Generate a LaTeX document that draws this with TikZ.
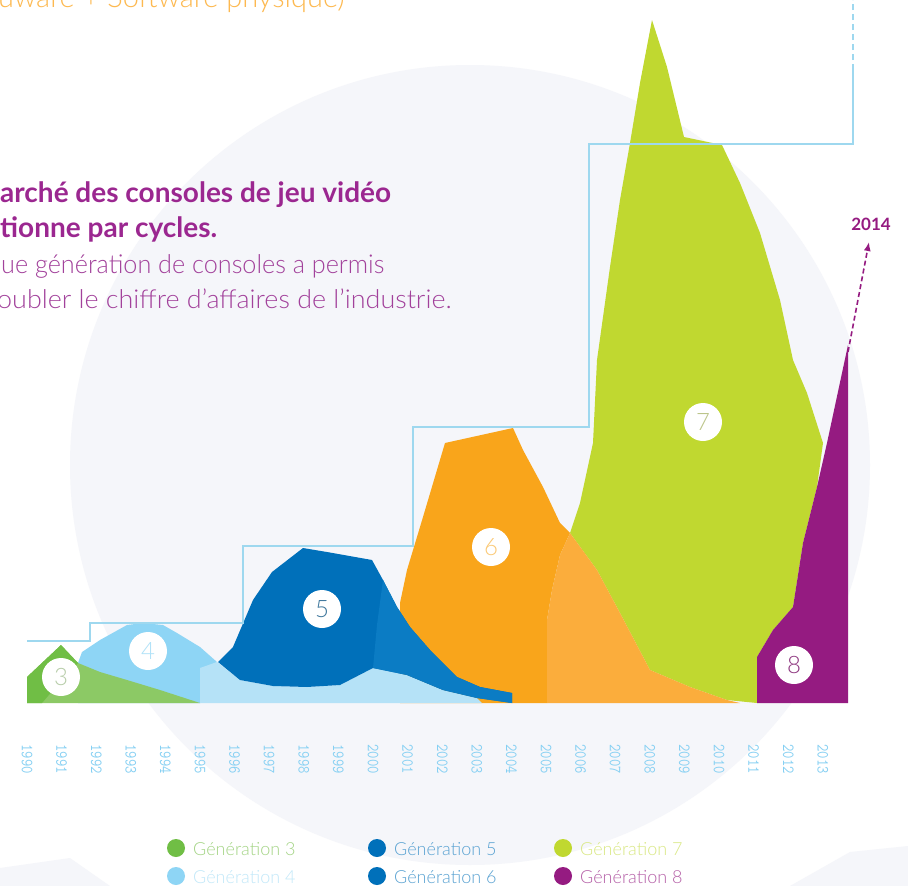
\documentclass[tikz,border=0pt]{standalone}
\usepackage{fontspec}
\usetikzlibrary{arrows.meta}
\setmainfont{Lato}
\IfFontExistsTF{Lato Light}{\newfontfamily\lightf{Lato Light}}{\newfontfamily\lightf{Lato}}
\definecolor{bgc}{HTML}{F5F6FA}
\definecolor{stepc}{HTML}{9ED8EF}
\definecolor{gthree}{HTML}{8CC965}
\definecolor{gthreed}{HTML}{70BE45}
\definecolor{gfour}{HTML}{8ED5F5}
\definecolor{gfourp}{HTML}{B5E2F7}
\definecolor{gfive}{HTML}{0070BA}
\definecolor{gfivet}{HTML}{0B7CC4}
\definecolor{gsix}{HTML}{F9A51B}
\definecolor{gsixl}{HTML}{FBAD3C}
\definecolor{gseven}{HTML}{C0D830}
\definecolor{geight}{HTML}{951B81}
\definecolor{titlec}{HTML}{9B2790}
\definecolor{subc}{HTML}{A2419B}
\definecolor{topc}{HTML}{FDB950}
\definecolor{yearc}{HTML}{86D0F3}
\begin{document}
\begin{tikzpicture}[x=1pt,y=-1pt,
  numc/.style={circle,fill=white,minimum size=38pt,inner sep=0pt,font=\lightf\fontsize{24}{24}\selectfont},
  yearlab/.style={rotate=-90,font=\ttfamily\fontsize{17}{17}\selectfont,text=yearc},
  legdot/.style={circle,inner sep=0pt,minimum size=18pt},
  legtxt/.style={anchor=base west,font=\lightf\fontsize{18}{18}\selectfont,inner sep=0pt},
  stepline/.style={draw=stepc,line width=2pt},
  titletxt/.style={anchor=base west,inner sep=0pt,text=titlec,font=\bfseries\fontsize{28}{28}\selectfont},
  subtxt/.style={anchor=base west,inner sep=0pt,text=subc,font=\lightf\fontsize{26}{26}\selectfont}]
\useasboundingbox (0,0) rectangle (908,886);
\fill[white] (0,0) rectangle (908,886);
% background disc
\fill[bgc] (470,465) circle (400);
\fill[bgc] (0,886) -- (0,868) -- (70,858) -- (110,886) -- cycle;
\fill[bgc] (790,886) -- (850,852) -- (908,846) -- (908,886) -- cycle;
% top text
\node[anchor=base west,inner sep=0pt,text=topc,font=\lightf\fontsize{29}{29}\selectfont] (top) at (-2,8) {uware + Software physique)};
% title
\node[titletxt] (t1) at (0,202) {arché des consoles de jeu vidéo};
\node[titletxt] (t2) at (0,237) {tionne par cycles.};
\node[subtxt] (t3) at (1,273) {\scalebox{0.97}[1]{ue génération de consoles a permis}};
\node[subtxt] (t4) at (-3,308) {\scalebox{1.035}[1]{oubler le chiffre d’affaires de l’industrie.}};
% generation 6 (dark orange)
\fill[gsix] (400,703) -- (400,603) -- (407,570) -- (423,517) -- (445,443) -- (513,428) -- (523,450) -- (543,487) -- (560,523) -- (570,533) -- (560,555) -- (552,590) -- (547,620) -- (547,703) -- cycle;
% generation 4
\fill[gfour] (78,703) -- (78,663) -- (82,652) -- (100,640) -- (127,625) -- (143,623) -- (163,625) -- (177,633) -- (200,647) -- (217,662) -- (205,668) -- (200,703) -- cycle;
% generation 3
\fill[gthree] (27,703) -- (27,677) -- (61,645) -- (78,663) -- (100,672) -- (127,680) -- (160,690) -- (200,703) -- cycle;
\fill[gthreed] (27,703) -- (27,677) -- (61,645) -- (78,663) -- (60,682) -- (42,703) -- cycle;
% pale blue layer
\fill[gfourp] (200,703) -- (200,668) -- (217,662) -- (240,680) -- (273,686) -- (307,687) -- (340,685) -- (373,668) -- (407,675) -- (443,690) -- (477,698) -- (482,703) -- cycle;
% generation 5
\fill[gfive] (218,662) -- (233,647) -- (253,600) -- (272,572) -- (303,548) -- (327,552) -- (372,560) -- (383,580) -- (397,607) -- (410,627) -- (430,650) -- (457,677) -- (480,687) -- (512,693) -- (512,703) -- (477,698) -- (443,690) -- (407,675) -- (373,668) -- (340,685) -- (307,687) -- (273,686) -- (240,680) -- cycle;
\fill[gfivet] (383,580) -- (397,607) -- (410,627) -- (430,650) -- (457,677) -- (480,687) -- (512,693) -- (512,703) -- (477,698) -- (443,690) -- (407,675) -- (373,668) -- (377,625) -- cycle;
% generation 7
\fill[gseven] (652,20) -- (667,67) -- (684,137) -- (722,145) -- (740,183) -- (760,233) -- (780,300) -- (793,360) -- (807,393) -- (823,443) -- (817,487) -- (803,543) -- (793,607) -- (773,630) -- (757,657) -- (757,703) -- (727,700) -- (690,687) -- (650,670) -- (620,613) -- (597,570) -- (570,533) -- (580,503) -- (593,443) -- (597,360) -- (610,267) -- (620,200) -- (630,143) -- (640,83) -- cycle;
% generation 6 light part
\fill[gsixl] (547,703) -- (547,620) -- (552,590) -- (560,555) -- (570,533) -- (597,570) -- (620,613) -- (650,670) -- (690,687) -- (727,700) -- (740,703) -- cycle;
% generation 8
\fill[geight] (757,703) -- (757,657) -- (773,630) -- (793,607) -- (803,543) -- (817,487) -- (827,443) -- (848,345) -- (848,703) -- cycle;
% step line
\coordinate (s0) at (27,641);
\coordinate (s1) at (853,70);
\coordinate (s2) at (853,0);
\draw[stepline] (s0) -- (90,641) -- (90,623) -- (243,623) -- (243,546) -- (413,546) -- (413,427) -- (589,427) -- (589,144) -- (853,144) -- (s1);
\draw[stepline,dashed,dash pattern=on 6pt off 4pt] (s1) -- (s2);
% 2014 arrow
\coordinate (a0) at (848,352);
\node[text=geight,font=\bfseries\fontsize{17}{17}\selectfont,inner sep=1pt] (y2014) at (871,224) {2014};
\draw[geight,line width=1.6pt,dash pattern=on 5pt off 3pt,-{Latex[length=9pt,width=7pt]}] (a0) -- (869,242);
% numbered circles
\node[numc,text=gthree!60!gray!60] (n3) at (61,677) {3};
\node[numc,text=gfour!70] (n4) at (148,651) {4};
\node[numc,text=gfive!50!gray] (n5) at (322,609) {5};
\node[numc,text=gsix!60] (n6) at (491,547) {6};
\node[numc,text=gseven!50!gray!70] (n7) at (703,422) {7};
\node[numc,text=geight!70!gray] (n8) at (794,665) {8};
% years
\foreach \yr [count=\i from 0] in {1990,1991,1992,1993,1994,1995,1996,1997,1998,1999,2000,2001,2002,2003,2004,2005,2006,2007,2008,2009,2010,2011,2012,2013}{
  \pgfmathsetmacro{\xx}{27+34.6*\i}
  \node[yearlab] (yr\yr) at (\xx,759) {\scalebox{0.84}[1]{\yr}};
}
% legend
\node[legdot,fill=gthreed] (d3) at (176,848) {};
\node[legtxt,text=gthree!80] (l3) at (193,855) {Génération 3};
\node[legdot,fill=gfour] (d4) at (176,876) {};
\node[legtxt,text=gfour!55] (l4) at (193,883) {Génération 4};
\node[legdot,fill=gfive] (d5) at (377,848) {};
\node[legtxt,text=gfive!65] (l5) at (394,855) {Génération 5};
\node[legdot,fill=gfive] (d6) at (377,876) {};
\node[legtxt,text=gfive!65] (l6) at (394,883) {Génération 6};
\node[legdot,fill=gseven] (d7) at (563,848) {};
\node[legtxt,text=gseven!60] (l7) at (580,855) {Génération 7};
\node[legdot,fill=geight] (d8) at (563,876) {};
\node[legtxt,text=geight!70] (l8) at (580,883) {Génération 8};
\end{tikzpicture}
\end{document}
